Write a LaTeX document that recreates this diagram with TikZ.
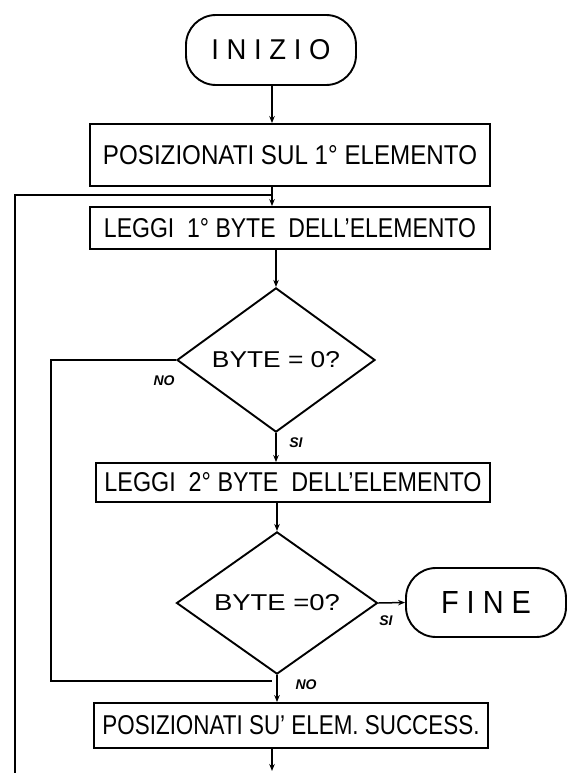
\documentclass[tikz,border=0pt]{standalone}
\usepackage{fontspec}
\setmainfont{Liberation Sans}
\usepackage{graphicx}
\usetikzlibrary{shapes.geometric,arrows.meta}
\newcommand{\fitT}[3]{\resizebox{#1pt}{#2pt}{#3}}
\tikzset{
  shp/.style={draw, line width=1.9pt, inner sep=0pt, text=black},
  procbox/.style={shp, rectangle},
  term/.style={shp, rectangle, rounded corners=30pt},
  decis/.style={shp, diamond},
  conn/.style={line width=1.5pt},
  arr/.style={conn, -{Stealth[length=7pt,width=5.5pt]}},
  lbl/.style={font=\fontsize{14}{14}\selectfont\bfseries\itshape, inner sep=0pt}
}
\begin{document}
\begin{tikzpicture}[x=1pt,y=-1pt]
\useasboundingbox (0,0) rectangle (566,773);
\fill[white] (0,0) rectangle (566,773);
% spine / free ends
\coordinate (spine) at (272,0);
\coordinate (loopL) at (15,195);
\coordinate (loopB) at (15,773);
\coordinate (noL) at (51,0);
\coordinate (joinB) at (272,681);
\coordinate (endB) at (272,771);
% nodes
\node[term, minimum width=170pt, minimum height=70pt] (inizio) at (271,50) {\fitT{119}{20}{I N I Z I O}};
\node[procbox, minimum width=400pt, minimum height=62pt] (box1) at (290,155) {\fitT{374}{19}{POSIZIONATI SUL 1° ELEMENTO}};
\node[procbox, minimum width=400pt, minimum height=42pt] (box2) at (290,228) {\fitT{372}{19}{LEGGI \ 1° BYTE \ DELL'ELEMENTO}};
\node[decis, minimum width=198pt, minimum height=136pt] (d1) at (276,360) {\fitT{128}{16}{BYTE = 0?}};
\node[procbox, minimum width=394pt, minimum height=39pt] (box3) at (293,482.5) {\fitT{377}{19}{LEGGI \ 2° BYTE \ DELL'ELEMENTO}};
\node[decis, minimum width=201pt, minimum height=137pt] (d2) at (277,603) {\fitT{126}{16}{BYTE =0?}};
\node[term, minimum width=160pt, minimum height=69pt] (fine) at (486,602.5) {\fitT{90}{22}{F I N E}};
\node[procbox, minimum width=394pt, minimum height=45pt] (box4) at (291,725.5) {\fitT{377}{19}{POSIZIONATI SU' ELEM. SUCCESS.}};
% connectors
\draw[arr] (inizio.south -| spine) -- (box1.north -| spine);
\draw[arr] (box1.south -| spine) -- (box2.north -| spine);
\draw[conn] (loopB) -- (loopL) -- (loopL -| spine);
\draw[arr] (box2.south -| d1.north) -- (d1.north);
\draw[conn] (d1.west) -- (d1.west -| noL) -- (joinB -| noL) -- (joinB);
\draw[arr] (d1.south) -- (box3.north -| d1.south);
\draw[arr] (box3.south -| d2.north) -- (d2.north);
\draw[arr] (d2.east) -- (fine.west);
\draw[arr] (d2.south) -- (box4.north -| d2.south);
\draw[arr] (box4.south -| spine) -- (endB);
% labels
\node[lbl] (no1) at (164,381) {NO};
\node[lbl] (si1) at (296,443) {SI};
\node[lbl] (si2) at (386,621) {SI};
\node[lbl] (no2) at (306,685) {NO};
\end{tikzpicture}
\end{document}
